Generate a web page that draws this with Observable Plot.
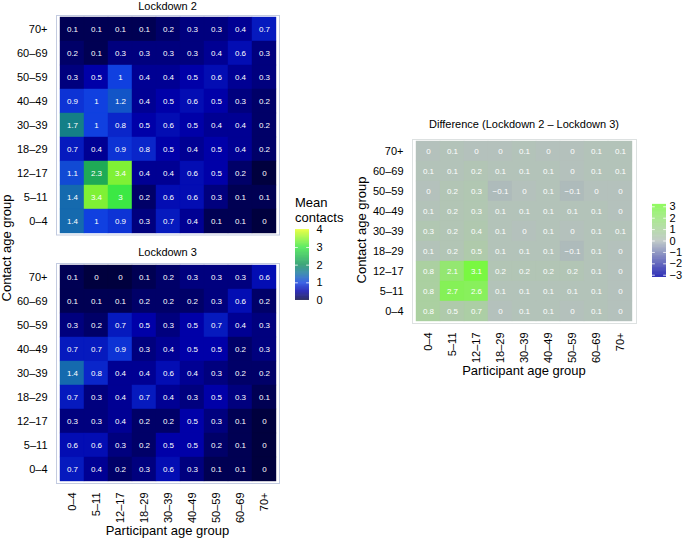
<!DOCTYPE html>
<html><head><meta charset="utf-8">
<script src="https://cdn.jsdelivr.net/npm/d3@7"></script>
<script src="https://cdn.jsdelivr.net/npm/@observablehq/plot@0.6"></script>
<style>
html,body{margin:0;padding:0;background:#fff;}
#root{position:relative;width:685px;height:538px;overflow:hidden;font-family:"Liberation Sans",Arial,Helvetica,sans-serif;}
#root > svg{position:absolute;}
</style></head><body><div id="root"></div>
<script>
// ---- data ----
const ages = ["0–4","5–11","12–17","18–29","30–39","40–49","50–59","60–69","70+"];
const contactRows = [...ages].reverse(); // top row first (70+)

// rows: contact age 70+ (top) ... 0–4 (bottom); columns: participant 0–4 ... 70+
const lockdown2 = [
  [0.1,0.1,0.1,0.1,0.2,0.3,0.3,0.4,0.7],
  [0.2,0.1,0.3,0.3,0.3,0.3,0.4,0.6,0.3],
  [0.3,0.5,1,0.4,0.4,0.5,0.6,0.4,0.3],
  [0.9,1,1.2,0.4,0.5,0.6,0.5,0.3,0.2],
  [1.7,1,0.8,0.5,0.6,0.5,0.4,0.4,0.2],
  [0.7,0.4,0.9,0.8,0.5,0.4,0.5,0.4,0.2],
  [1.1,2.3,3.4,0.4,0.4,0.6,0.5,0.2,0],
  [1.4,3.4,3,0.2,0.6,0.6,0.3,0.1,0.1],
  [1.4,1,0.9,0.3,0.7,0.4,0.1,0.1,0]
];
const lockdown3 = [
  [0.1,0,0,0.1,0.2,0.3,0.3,0.3,0.6],
  [0.1,0.1,0.1,0.2,0.2,0.2,0.3,0.6,0.2],
  [0.3,0.2,0.7,0.5,0.3,0.5,0.7,0.4,0.3],
  [0.7,0.7,0.9,0.3,0.4,0.5,0.5,0.2,0.3],
  [1.4,0.8,0.4,0.4,0.6,0.4,0.3,0.2,0.2],
  [0.7,0.3,0.4,0.7,0.4,0.3,0.5,0.3,0.1],
  [0.3,0.3,0.4,0.2,0.2,0.5,0.3,0.1,0],
  [0.6,0.6,0.3,0.2,0.5,0.5,0.2,0.1,0],
  [0.7,0.4,0.2,0.3,0.6,0.3,0.1,0.1,0]
];
const difference = [
  [0,0.1,0,0,0.1,0,0,0.1,0.1],
  [0.1,0.1,0.2,0.1,0.1,0.1,0,0.1,0.1],
  [0,0.2,0.3,-0.1,0,0.1,-0.1,0,0],
  [0.1,0.2,0.3,0.1,0.1,0.1,0.1,0.1,0],
  [0.3,0.2,0.4,0.1,0,0.1,0,0.1,0.1],
  [0.1,0.2,0.5,0.1,0.1,0.1,-0.1,0.1,0],
  [0.8,2.1,3.1,0.2,0.2,0.2,0.2,0.1,0],
  [0.8,2.7,2.6,0.1,0.1,0.1,0.1,0.1,0],
  [0.8,0.5,0.7,0,0.1,0.1,0,0.1,0]
];
const meanBreaks = [0,1,2,3,4];
const meanLimits = [0,4];
const diffBreaks = [-3,-2,-1,0,1,2,3];
const diffLimits = [-3.2,3.2];
const meanStops  = [0,0.5,1,1.5,2,3,4];
const meanColors = ["#00003e","#0000a8","#1040e0","#1674a2","#12905e","#3ce844","#e4ff1e"];
const diffColors = ["#0000a8","#b4c1bc","#76fa3a"];

// ---- helpers ----
const FONT = '"Liberation Sans", Arial, Helvetica, sans-serif';
const fmt = v => String(v).replace("-", "\u2212");
const tidy = m => m.flatMap((row,i) => row.map((v,j) => ({contact: contactRows[i], participant: ages[j], value: v})));
const lowHex = d3.color(diffColors[0]).formatHex();
const diffInterp = (a, b) => (d3.color(a).formatHex() === lowHex || d3.color(b).formatHex() === lowHex)
  ? d3.interpolateRgb(a, b) : d3.interpolateLab(a, b);
const meanColor = {type:"linear", domain: meanStops, range: meanColors, clamp: true};
const diffColor = {type:"linear", domain: [diffLimits[0],0,diffLimits[1]], range: diffColors, interpolate: diffInterp, clamp: true};
const root = document.getElementById("root");

function place(svg, left, top){ svg.style.left = left+"px"; svg.style.top = top+"px"; root.appendChild(svg); }

function heatmap({matrix, color, width, height, mt, mb, ml, mr, xAxis, frameStroke}) {
  const data = tidy(matrix);
  return Plot.plot({
    width, height, marginTop: mt, marginBottom: mb, marginLeft: ml, marginRight: mr,
    style: {fontFamily: FONT, fontSize: "11px", color: "black", background: "transparent", overflow: "visible"},
    x: xAxis ? {domain: ages, padding: 0, tickSize: 0, tickPadding: 9, tickRotate: -90, label: null}
             : {domain: ages, padding: 0, axis: null},
    y: {domain: contactRows, padding: 0, tickSize: 0, tickPadding: 9, label: null},
    color,
    marks: [
      Plot.cell(data, {x: "participant", y: "contact", fill: "value", stroke: "value", strokeWidth: 0.4}),
      Plot.text(data, {x: "participant", y: "contact", text: d => fmt(d.value), fill: "white", fontSize: 8}),
      Plot.frame({stroke: frameStroke, strokeWidth: 1})
    ]
  });
}

function colorbar({color, limits, breaks, width, height, mt, mb, ml, mr, pad}) {
  const ramp = d3.range(0, 200).map(i => limits[0] + (limits[1]-limits[0]) * i / 200);
  const step = (limits[1]-limits[0]) / 200;
  const inner = breaks.filter(b => b > limits[0] && b < limits[1]);
  return Plot.plot({
    width, height, marginTop: mt, marginBottom: mb, marginLeft: ml, marginRight: mr,
    style: {fontFamily: FONT, fontSize: "11px", color: "black", background: "transparent", overflow: "visible"},
    x: {domain: [0,1], axis: null},
    y: {domain: limits, axis: "right", ticks: breaks, tickSize: 0, tickPadding: pad, tickFormat: fmt, label: null},
    color,
    marks: [
      Plot.rect(ramp, {x1: 0, x2: 1, y1: d => d, y2: d => d + step * 1.3, fill: d => d + step/2}),
      Plot.ruleY(inner, {x1: 0, x2: 0.2, stroke: "white", strokeWidth: 0.8}),
      Plot.ruleY(inner, {x1: 0.8, x2: 1, stroke: "white", strokeWidth: 0.8})
    ]
  });
}

// ---- panels ----
place(heatmap({matrix: lockdown2, color: meanColor, width: 290, height: 240, mt: 15, mb: 5.5, ml: 56, mr: 11, xAxis: false, frameStroke: "#c3cbe0"}), 0, 0);
place(heatmap({matrix: lockdown3, color: meanColor, width: 290, height: 290, mt: 15, mb: 55, ml: 56, mr: 11, xAxis: true, frameStroke: "#c3cbe0"}), 0, 248);
place(heatmap({matrix: difference, color: diffColor, width: 300, height: 249, mt: 15, mb: 50, ml: 72, mr: 4, xAxis: true, frameStroke: "#dde1e1"}), 340, 124);

place(colorbar({color: meanColor, limits: meanLimits, breaks: meanBreaks, width: 50, height: 90, mt: 9.3, mb: 10, ml: 5, mr: 31, pad: 7}), 290, 220);
place(colorbar({color: diffColor, limits: diffLimits, breaks: diffBreaks, width: 38, height: 90, mt: 9, mb: 8, ml: 5, mr: 19, pad: 3}), 647, 195);

// ---- titles ----
const ov = d3.create("svg").attr("width", 685).attr("height", 538)
  .style("left","0px").style("top","0px").style("pointer-events","none")
  .attr("font-family", FONT).attr("fill", "black");
const T = (x, y, txt, size, anchor="middle", rot=0) => ov.append("text")
  .attr("transform", `translate(${x},${y}) rotate(${rot})`)
  .attr("text-anchor", anchor).attr("font-size", size).text(txt);
T(167.5, 9.6, "Lockdown 2", 11);
T(167.5, 256, "Lockdown 3", 11);
T(524, 127.7, "Difference (Lockdown 2 \u2013 Lockdown 3)", 11);
T(167.5, 534.5, "Participant age group", 13);
T(524, 374.5, "Participant age group", 13);
T(11.3, 248, "Contact age group", 13, "middle", -90);
T(366, 230, "Contact age group", 13, "middle", -90);
T(295, 207, "Mean", 13, "start");
T(295, 221.5, "contacts", 13, "start");
root.appendChild(ov.node());
</script></body></html>
